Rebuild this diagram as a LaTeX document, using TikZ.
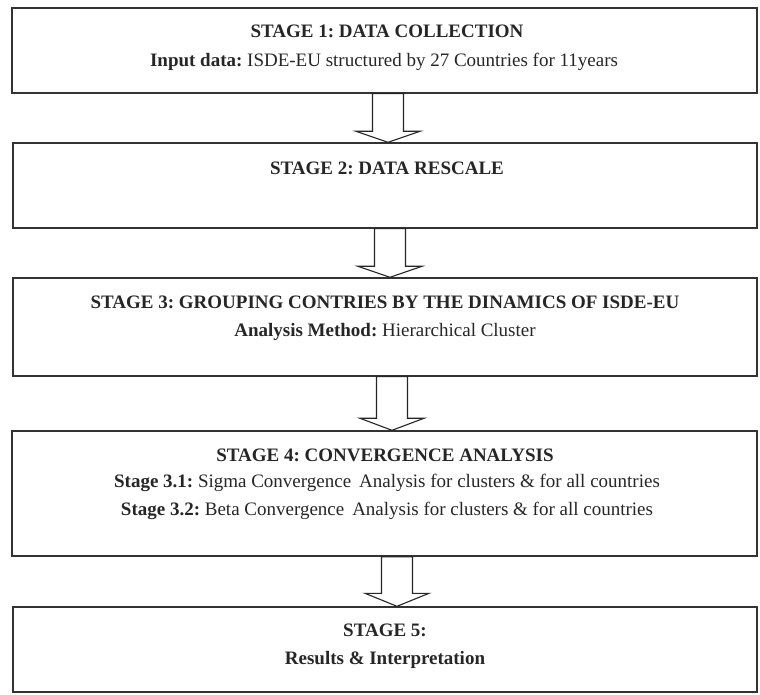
\documentclass[tikz,border=0pt]{standalone}
\usepackage{fontspec}
\setmainfont{Liberation Serif}
\usetikzlibrary{calc}
\frenchspacing
\tikzset{
  stagebox/.style={draw=black!80, line width=1.4pt, rectangle, inner sep=0pt, fill=none},
  txt/.style={inner sep=0pt, anchor=center, font=\fontsize{19}{22}\selectfont, text=black!85},
  blkarr/.style={draw=black!85, line width=1.1pt, fill=white, line join=miter}
}
\newcommand\blkarrow[4]{%
  \draw[blkarr] let \p1=(#1.south), \p2=(#2.north) in
    (#3-15.5,\y1) -- (#3-15.5,\y2+#4) -- (#3-32,\y2+#4) -- (#3,\y2) --
    (#3+32,\y2+#4) -- (#3+15.5,\y2+#4) -- (#3+15.5,\y1) -- cycle;}
\begin{document}
\begin{tikzpicture}[x=1pt,y=1pt]
\useasboundingbox (0,0) rectangle (760,694);
% boxes (y measured from top: Y = 694 - ypx)
\node[stagebox, minimum width=745pt, minimum height=85pt] (b1) at (384.5,643.5) {};
\node[stagebox, minimum width=744pt, minimum height=85pt] (b2) at (385,508.5) {};
\node[stagebox, minimum width=744pt, minimum height=98pt] (b3) at (385,367) {};
\node[stagebox, minimum width=745pt, minimum height=125pt] (b4) at (384.5,200.5) {};
\node[stagebox, minimum width=744pt, minimum height=85pt] (b5) at (385,44.5) {};
% texts
\node[txt] (t1a) at (387,663) {\textbf{STAGE 1: DATA COLLECTION}};
\node[txt] (t1b) at (384,632) {\textbf{Input data:} ISDE-EU structured by 27 Countries for 11years};
\node[txt] (t2a) at (387,526) {\textbf{STAGE 2: DATA RESCALE}};
\node[txt] (t3a) at (385,392) {\textbf{STAGE 3: GROUPING CONTRIES BY THE DINAMICS OF ISDE-EU}};
\node[txt] (t3b) at (385,362) {\textbf{Analysis Method:} Hierarchical Cluster};
\node[txt] (t4a) at (385,239) {\textbf{STAGE 4: CONVERGENCE ANALYSIS}};
\node[txt] (t4b) at (387,211) {\textbf{Stage 3.1:} Sigma Convergence\, Analysis for clusters \& for all countries};
\node[txt] (t4c) at (387,183) {\textbf{Stage 3.2:} Beta Convergence\, Analysis for clusters \& for all countries};
\node[txt] (t5a) at (385,64) {\textbf{STAGE 5:}};
\node[txt] (t5b) at (385,34) {\textbf{Results \& Interpretation}};
% block arrows
\blkarrow{b1}{b2}{388}{11}
\blkarrow{b2}{b3}{390}{11}
\blkarrow{b3}{b4}{392}{12}
\blkarrow{b4}{b5}{397}{13}
\end{tikzpicture}
\end{document}
